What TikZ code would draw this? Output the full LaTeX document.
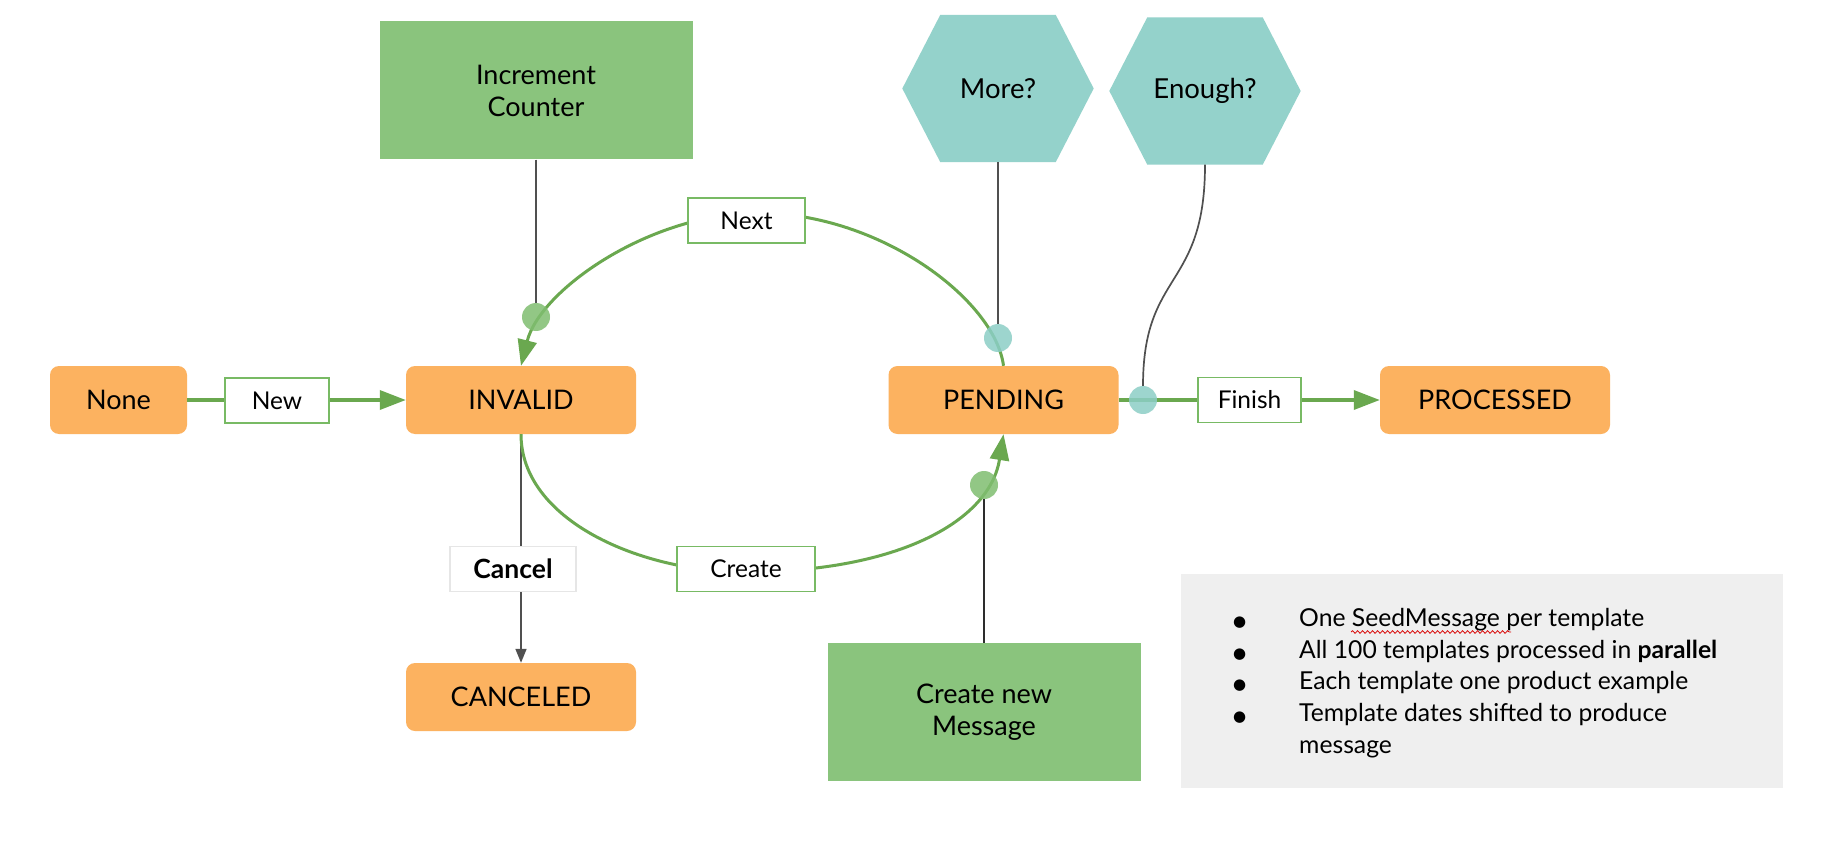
\documentclass[tikz,border=0pt]{standalone}
\usepackage{fontspec}
\setmainfont{Lato}
\newfontfamily\symfont{DejaVu Sans}
\usetikzlibrary{arrows.meta,calc,decorations.pathmorphing}
\pgfdeclarelayer{background}
\pgfsetlayers{background,main}

\definecolor{stateor}{RGB}{252,178,96}
\definecolor{boxgreen}{RGB}{138,196,125}
\definecolor{hexteal}{RGB}{148,210,203}
\definecolor{flowgreen}{RGB}{106,168,79}
\definecolor{lblgreen}{RGB}{120,186,100}
\definecolor{cancelgray}{RGB}{230,230,230}
\definecolor{linegray}{RGB}{80,80,80}
\definecolor{darkline}{RGB}{45,45,45}
\definecolor{notegray}{RGB}{239,239,239}
\definecolor{dotgreen}{RGB}{128,190,112}
\definecolor{dotteal}{RGB}{140,206,198}

\begin{document}
\begin{tikzpicture}[x=1pt,y=-1pt,
  state/.style={fill=stateor, rounded corners=9pt, minimum width=230pt, minimum height=68pt, inner sep=0pt, font=\fontsize{27}{32}\selectfont},
  action/.style={fill=boxgreen, minimum width=313pt, minimum height=138pt, align=center, inner sep=0pt, font=\fontsize{27}{32}\selectfont},
  hexlbl/.style={inner sep=0pt, minimum width=191pt, minimum height=147pt, font=\fontsize{27.5}{32}\selectfont},
  lbl/.style={fill=white, draw=lblgreen, line width=1.5pt, minimum height=45pt, inner sep=0pt, font=\fontsize{24.5}{28}\selectfont},
  flow/.style={draw=flowgreen, line width=3.5pt},
  bigtip/.style={-{Triangle[length=26pt,width=19pt]}},
  conn/.style={draw=linegray, line width=1.7pt},
  dot/.style={circle, minimum size=28pt, inner sep=0pt, fill opacity=0.85},
]
\begin{pgfonlayer}{background}
\fill[white] (0,0) rectangle (1830,842);
\end{pgfonlayer}
\useasboundingbox (0,0) rectangle (1830,842);

% note box
\node[fill=notegray, minimum width=602pt, minimum height=214pt, inner sep=0pt] (note) at (1482,681) {};
\node[anchor=north west, inner sep=0pt, align=left, font=\fontsize{24.7}{31.7}\selectfont] (notetext) at (1233,608)
  {\makebox[66pt][l]{\symfont\fontsize{15}{15}\selectfont ●}One SeedMessage per template\\
   \makebox[66pt][l]{\symfont\fontsize{15}{15}\selectfont ●}All 100 templates processed in \textbf{parallel}\\
   \makebox[66pt][l]{\symfont\fontsize{15}{15}\selectfont ●}Each template one product example\\
   \makebox[66pt][l]{\symfont\fontsize{15}{15}\selectfont ●}Template dates shifted to produce\\
   \hspace*{66pt}message};
\draw[red!85!black, line width=0.8pt, decorate, decoration={snake, amplitude=1.3pt, segment length=5pt}] (1351,632) -- (1511,632);

% states
\node[state, minimum width=137pt] (none) at (118.5,400) {None};
\node[state] (invalid) at (521,400) {INVALID};
\node[state] (pending) at (1003.5,400) {PENDING};
\node[state] (processed) at (1495,400) {PROCESSED};
\node[state] (canceled) at (521,697) {CANCELED};

% actions
\node[action] (incr) at (536,90.5) {Increment\\Counter};
\node[action] (msg) at (984,712) {Create new\\Message};

% hexagons
\node[hexlbl] (more) at (998,88.5) {More?};
\node[hexlbl] (enough) at (1205,91) {Enough?};
\begin{pgfonlayer}{background}
\foreach \h in {more,enough}{
  \fill[hexteal] (\h.west) -- ([xshift=38pt]\h.north west) -- ([xshift=-38pt]\h.north east)
    -- (\h.east) -- ([xshift=-38pt]\h.south east) -- ([xshift=38pt]\h.south west) -- cycle;
}
\end{pgfonlayer}

% coordinates on the loops
\coordinate (toppeak) at (758,213);
\coordinate (botlow) at (745,572);

% straight connectors
\draw[flow, bigtip] (none) -- (invalid);
\draw[flow, bigtip] (pending) -- (processed);
\draw[conn, -{Triangle[length=14pt,width=11pt]}] (invalid) -- (canceled);

% loops
\draw[flow, line width=3pt, bigtip] (pending.north) .. controls (995,300) and (880,213) .. (toppeak)
  .. controls (650,213) and (540,290) .. (invalid.north);
\draw[flow, line width=3pt, bigtip] (invalid.south) .. controls (521,520) and (640,572) .. (botlow)
  .. controls (900,572) and (990,520) .. (pending.south);

% labels
\node[lbl, minimum width=104pt] (newlbl) at (277,400.5) {New};
\node[lbl, minimum width=117pt] (nextlbl) at (746.5,220.5) {Next};
\node[lbl, minimum width=138pt] (createlbl) at (746,569) {Create};
\node[lbl, minimum width=103pt] (finishlbl) at (1249.5,400) {Finish};
\node[lbl, draw=cancelgray, minimum width=126pt, font=\fontsize{26.5}{30}\selectfont\bfseries] (cancellbl) at (513,569) {Cancel};

% dots
\node[dot, fill=dotgreen] (incrdot) at (536,317) {};
\node[dot, fill=dotteal] (moredot) at (998,338) {};
\node[dot, fill=dotgreen] (msgdot) at (984,485) {};
\node[dot, fill=dotteal] (enoughdot) at (1143,400) {};

% event lines
\draw[conn] (incr.south) -- (incrdot);
\draw[conn] (more.south) -- (moredot);
\draw[draw=darkline, line width=1.8pt] (msg.north) -- (msgdot);
\draw[conn] (enough.south) .. controls (1205,290) and (1143,270) .. (enoughdot);
\end{tikzpicture}
\end{document}
